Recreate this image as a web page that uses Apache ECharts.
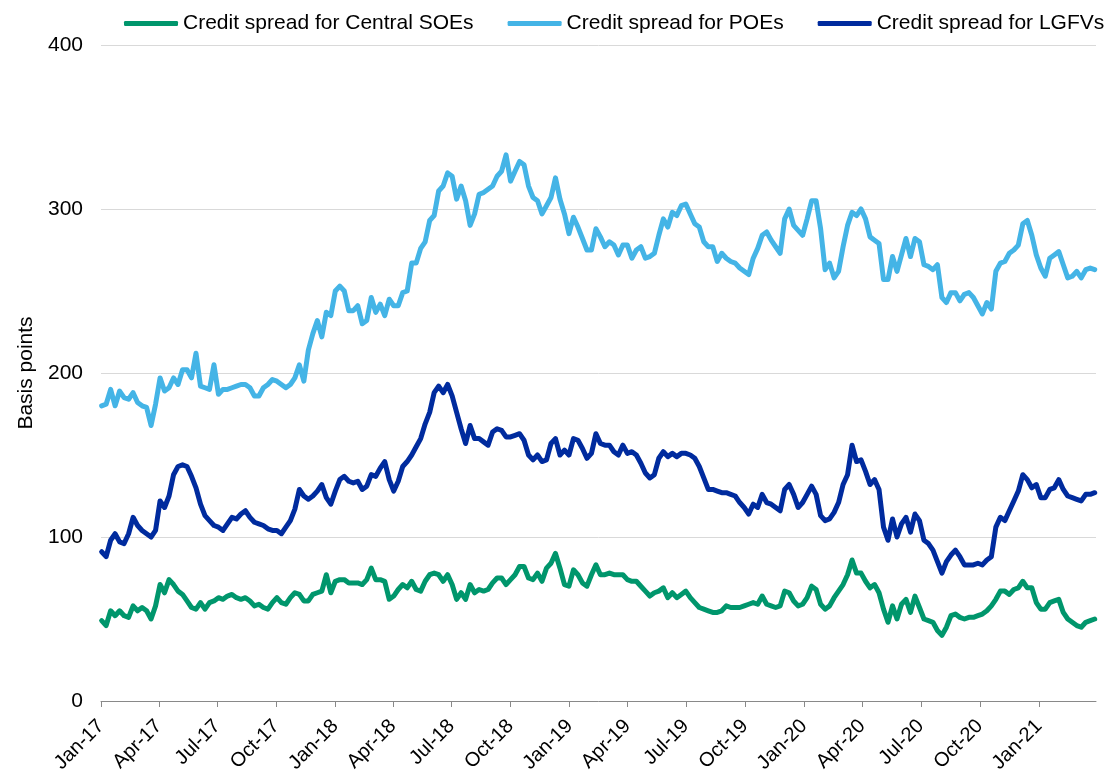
<!DOCTYPE html>
<html>
<head>
<meta charset="utf-8">
<title>Credit spreads</title>
<script src="https://cdn.jsdelivr.net/npm/echarts@6/dist/echarts.min.js"></script>
<style>
  html, body { margin: 0; padding: 0; background: #fff; }
  #chart { width: 1114px; height: 774px; }
</style>
</head>
<body>
<div id="chart"></div>
<script>
// Weekly observations, first week starting Mon 2 Jan 2017
const firstWeek = [2017, 0, 2];

const seriesNames = [
  'Credit spread for Central SOEs',
  'Credit spread for POEs',
  'Credit spread for LGFVs'
];

// Credit spread, basis points
const soeSpread = [
  49, 46, 55, 52, 55, 52, 51, 58, 55, 57, 55, 50, 58, 71, 66, 74, 71, 67, 65, 61,
  57, 56, 60, 56, 60, 61, 63, 62, 64, 65, 63, 62, 63, 61, 58, 59, 57, 56, 60, 63,
  60, 59, 63, 66, 65, 61, 61, 65, 66, 67, 77, 66, 73, 74, 74, 72, 72, 72, 71, 74,
  81, 74, 74, 73, 62, 64, 68, 71, 69, 73, 68, 67, 73, 77, 78, 77, 73, 77, 71, 62,
  66, 62, 71, 66, 68, 67, 68, 72, 75, 75, 71, 74, 77, 82, 82, 75, 74, 78, 73, 81,
  84, 90, 81, 71, 70, 80, 77, 72, 70, 77, 83, 77, 77, 78, 77, 77, 77, 74, 73, 73,
  70, 67, 64, 66, 67, 69, 63, 66, 63, 65, 67, 63, 60, 57, 56, 55, 54, 54, 55, 58,
  57, 57, 57, 58, 59, 60, 59, 64, 59, 58, 57, 58, 67, 66, 61, 58, 59, 63, 70, 68,
  59, 56, 58, 63, 67, 71, 77, 86, 78, 78, 73, 69, 71, 66, 56, 48, 58, 50, 59, 62,
  54, 64, 57, 50, 49, 48, 43, 40, 45, 52, 53, 51, 50, 51, 51, 52, 53, 55, 58, 62,
  67, 67, 65, 68, 69, 73, 69, 69, 60, 56, 56, 60, 61, 62, 54, 50, 48, 46, 45, 48,
  49, 50
];

const poeSpread = [
  180, 181, 190, 180, 189, 185, 184, 188, 182, 180, 179, 168, 181, 197, 189, 191, 197, 193, 202, 202,
  197, 212, 192, 191, 190, 205, 187, 190, 190, 191, 192, 193, 193, 191, 186, 186, 191, 193, 196, 195,
  193, 191, 193, 197, 205, 195, 214, 224, 232, 222, 237, 235, 250, 253, 250, 238, 238, 241, 230, 232,
  246, 237, 242, 235, 245, 241, 241, 249, 250, 267, 267, 276, 280, 293, 296, 311, 314, 322, 320, 306,
  314, 305, 290, 297, 309, 310, 312, 314, 320, 323, 333, 317, 323, 329, 327, 314, 307, 305, 297, 302,
  307, 319, 306, 297, 285, 295, 289, 282, 275, 275, 288, 283, 277, 280, 278, 272, 278, 278, 270, 275,
  277, 270, 271, 273, 284, 294, 289, 298, 296, 302, 303, 297, 291, 289, 280, 277, 277, 268, 273, 270,
  268, 267, 264, 262, 260, 270, 276, 284, 286, 281, 277, 273, 294, 300, 290, 287, 284, 294, 305, 305,
  288, 263, 267, 258, 262, 277, 290, 298, 296, 300, 294, 283, 281, 279, 257, 257, 271, 262, 272, 282,
  271, 282, 280, 266, 265, 263, 266, 246, 243, 249, 249, 244, 248, 249, 246, 241, 236, 243, 239, 262,
  267, 268, 273, 275, 278, 291, 293, 284, 272, 264, 259, 270, 272, 274, 266, 258, 259, 262, 258, 263,
  264, 263
];

const lgfvSpread = [
  91, 88, 98, 102, 97, 96, 102, 112, 107, 104, 102, 100, 104, 122, 118, 125, 138, 143, 144, 143,
  137, 130, 120, 113, 110, 107, 106, 104, 108, 112, 111, 114, 116, 112, 109, 108, 107, 105, 104, 104,
  102, 106, 110, 117, 129, 125, 123, 125, 128, 132, 124, 120, 128, 135, 137, 134, 133, 134, 129, 131,
  138, 137, 142, 146, 135, 128, 134, 143, 146, 150, 155, 160, 169, 176, 188, 192, 188, 193, 186, 176,
  166, 157, 168, 160, 160, 158, 156, 164, 166, 165, 161, 161, 162, 163, 159, 150, 147, 150, 146, 147,
  157, 160, 150, 153, 150, 160, 159, 154, 148, 151, 163, 157, 156, 156, 152, 150, 156, 151, 152, 150,
  145, 139, 136, 138, 148, 152, 149, 151, 149, 151, 151, 150, 148, 143, 136, 129, 129, 128, 127, 127,
  126, 125, 121, 118, 114, 120, 118, 126, 121, 120, 118, 116, 129, 132, 126, 118, 121, 126, 131, 126,
  113, 110, 111, 115, 121, 132, 138, 156, 146, 147, 140, 132, 135, 129, 106, 98, 111, 100, 108, 112,
  103, 114, 110, 98, 96, 92, 85, 78, 85, 89, 92, 88, 83, 83, 83, 84, 83, 86, 88, 106,
  112, 110, 116, 122, 128, 138, 135, 130, 132, 124, 124, 129, 130, 135, 129, 125, 124, 123, 122, 126,
  126, 127
];

const seriesColors = ['#00966C', '#44B4E6', '#002B9E'];

// Quarterly ticks on the date axis
const tickDates = [
  '2017-01-01', '2017-04-01', '2017-07-01', '2017-10-01',
  '2018-01-01', '2018-04-01', '2018-07-01', '2018-10-01',
  '2019-01-01', '2019-04-01', '2019-07-01', '2019-10-01',
  '2020-01-01', '2020-04-01', '2020-07-01', '2020-10-01',
  '2021-01-01'
];
const tickLabels = [
  'Jan-17', 'Apr-17', 'Jul-17', 'Oct-17',
  'Jan-18', 'Apr-18', 'Jul-18', 'Oct-18',
  'Jan-19', 'Apr-19', 'Jul-19', 'Oct-19',
  'Jan-20', 'Apr-20', 'Jul-20', 'Oct-20',
  'Jan-21'
];
const axisStart = '2017-01-01';
const axisEnd = '2021-03-31';

const yTicks = { min: 0, max: 400, step: 100 };

function localTime(s) {
  const p = s.split('-').map(Number);
  return new Date(p[0], p[1] - 1, p[2]).getTime();
}

const tickTimes = tickDates.map(localTime);

function labelFor(v) {
  let best = 0;
  tickTimes.forEach((t, i) => {
    if (Math.abs(t - v) < Math.abs(tickTimes[best] - v)) best = i;
  });
  return Math.abs(tickTimes[best] - v) < 86400000 ? tickLabels[best] : '';
}

function weekTime(i) {
  return new Date(firstWeek[0], firstWeek[1], firstWeek[2] + 7 * i).getTime();
}

function pairs(values) {
  return values.map((v, i) => [weekTime(i), v]);
}

const allValues = [soeSpread, poeSpread, lgfvSpread];
const FONT = 'Liberation Sans, Arial, sans-serif';

const chart = echarts.init(document.getElementById('chart'), null, { renderer: 'canvas' });

chart.setOption({
  animation: false,
  backgroundColor: '#ffffff',
  textStyle: { fontFamily: FONT },
  color: seriesColors,
  legend: {
    top: 13,
    left: 124,
    padding: 0,
    itemWidth: 54,
    itemHeight: 5,
    itemGap: 34,
    icon: 'roundRect',
    textStyle: { fontSize: 21, color: '#000', fontFamily: FONT, padding: [0, 0, 0, 0] },
    data: seriesNames
  },
  grid: {
    left: 101,
    right: 18,
    top: 45,
    bottom: 73,
    containLabel: false,
    outerBoundsMode: 'none'
  },
  xAxis: {
    type: 'value',
    min: localTime(axisStart),
    max: localTime(axisEnd),
    scale: true,
    splitLine: { show: false },
    axisLine: { show: true, onZero: false, lineStyle: { color: '#898989', width: 1 } },
    axisTick: {
      show: true,
      length: 6,
      lineStyle: { color: '#898989' },
      customValues: tickTimes
    },
    axisLabel: {
      customValues: tickTimes,
      rotate: 45,
      margin: 22,
      fontSize: 20,
      color: '#000',
      fontFamily: FONT,
      hideOverlap: false,
      formatter: (v) => labelFor(v)
    }
  },
  yAxis: {
    type: 'value',
    min: yTicks.min,
    max: yTicks.max,
    interval: yTicks.step,
    name: 'Basis points',
    nameLocation: 'middle',
    nameRotate: 90,
    nameGap: 64,
    nameTextStyle: { fontSize: 21, color: '#000', fontFamily: FONT },
    axisLine: { show: false },
    axisTick: { show: false },
    axisLabel: { fontSize: 21, color: '#000', margin: 18, fontFamily: FONT },
    splitLine: { show: true, lineStyle: { color: '#D9D9D9', width: 1 } }
  },
  series: seriesNames.map((name, i) => ({
    name: name,
    type: 'line',
    data: pairs(allValues[i]),
    showSymbol: false,
    symbol: 'none',
    smooth: false,
    lineStyle: { width: 5, color: seriesColors[i], join: 'round', cap: 'round' },
    itemStyle: { color: seriesColors[i] },
    emphasis: { disabled: true }
  }))
});
</script>
</body>
</html>
